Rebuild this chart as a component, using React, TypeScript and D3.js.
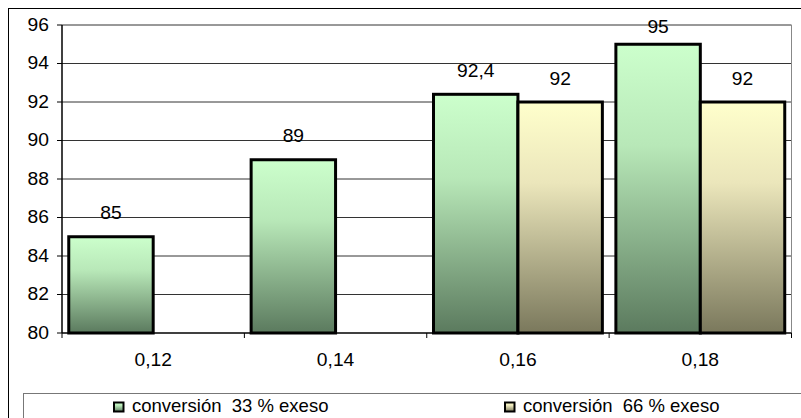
import React from "react";
import * as d3 from "d3";

const categories = ["0,12", "0,14", "0,16", "0,18"];
const seriesNames = ["conversión  33 % exeso", "conversión  66 % exeso"];
const series33: (number | null)[] = [85, 89, 92.4, 95];
const series66: (number | null)[] = [null, null, 92, 92];
const yTicks = [80, 82, 84, 86, 88, 90, 92, 94, 96];

const W = 801;
const H = 418;
const plot = { left: 62, right: 791.5, top: 25, bottom: 333 };
const font = "'Liberation Sans', Arial, sans-serif";

const fmt = (v: number) => String(v).replace(".", ",");

function T(props: { x: number; y: number; anchor?: string; size: number; sx?: number; children: any }) {
  const { x, y, anchor = "start", size, sx = 1, children } = props;
  return (
    <text
      transform={`translate(${x},${y}) scale(${sx},1)`}
      textAnchor={anchor as any}
      fontFamily={font}
      fontSize={size}
      fill="#000"
      style={{ whiteSpace: "pre" }}
    >
      {children}
    </text>
  );
}

export default function App() {
  const y = d3.scaleLinear().domain([80, 96]).range([plot.bottom, plot.top]);
  const x = d3.scaleBand<string>().domain(categories).range([plot.left, plot.right]).padding(0);
  const xs = d3
    .scaleBand<string>()
    .domain(["s0", "s1"])
    .range([0, x.bandwidth()])
    .paddingInner(0)
    .paddingOuter(0.08);
  const allSeries = [series33, series66];
  const grads = ["gGreen", "gYellow"];

  return (
    <svg width={W} height={H} style={{ position: "absolute", left: 0, top: 0, background: "#fff" }}>
      <defs>
        <linearGradient id="gGreen" x1="0" y1="0" x2="0" y2="1">
          <stop offset="0" stopColor="#ccffcc" />
          <stop offset="0.35" stopColor="#b8e8b8" />
          <stop offset="1" stopColor="#5b7a5e" />
        </linearGradient>
        <linearGradient id="gYellow" x1="0" y1="0" x2="0" y2="1">
          <stop offset="0" stopColor="#ffffcc" />
          <stop offset="0.35" stopColor="#ebe6bb" />
          <stop offset="1" stopColor="#7a785c" />
        </linearGradient>
      </defs>
      {/* outer border */}
      <rect x={8.5} y={8.5} width={820} height={440} fill="none" stroke="#000" strokeWidth={1} />
      {/* gridlines */}
      {yTicks.slice(1).map((t) => (
        <line key={t} x1={plot.left} x2={plot.right} y1={y(t)} y2={y(t)} stroke="#333" strokeWidth={1} />
      ))}
      {/* plot right border */}
      <line x1={plot.right} x2={plot.right} y1={plot.top} y2={plot.bottom} stroke="#888" strokeWidth={1} />
      {/* y ticks */}
      {yTicks.map((t) => (
        <g key={t}>
          <line x1={57} x2={plot.left} y1={y(t)} y2={y(t)} stroke="#000" />
          <T x={49} y={y(t) + 5.5} anchor="end" size={18} sx={1.07}>
            {t}
          </T>
        </g>
      ))}
      {/* bars */}
      {categories.map((c, i) =>
        allSeries.map((s, k) => {
          const v = s[i];
          if (v == null) return null;
          const bx = (x(c) as number) + (xs(k === 0 ? "s0" : "s1") as number);
          const by = y(v);
          return (
            <g key={c + k}>
              <rect
                x={bx}
                y={by}
                width={xs.bandwidth()}
                height={plot.bottom - by}
                fill={`url(#${grads[k]})`}
                stroke="#000"
                strokeWidth={3}
              />
              <T x={bx + xs.bandwidth() / 2} y={Math.max(by - 17.5, 33)} anchor="middle" size={17.5} sx={1.1}>
                {fmt(v)}
              </T>
            </g>
          );
        })
      )}
      {/* axes */}
      <line x1={plot.left} x2={plot.left} y1={plot.top} y2={plot.bottom} stroke="#000" strokeWidth={1.5} />
      <line x1={plot.left} x2={plot.right} y1={plot.bottom} y2={plot.bottom} stroke="#000" strokeWidth={1.5} />
      {categories.map((c) => (
        <line
          key={"t" + c}
          x1={x(c) as number}
          x2={x(c) as number}
          y1={plot.bottom}
          y2={plot.bottom + 5}
          stroke="#000"
        />
      ))}
      <line x1={plot.right} x2={plot.right} y1={plot.bottom} y2={plot.bottom + 5} stroke="#000" />
      {categories.map((c) => (
        <T key={"l" + c} x={(x(c) as number) + x.bandwidth() / 2} y={366} anchor="middle" size={17.5} sx={1.1}>
          {c}
        </T>
      ))}
      {/* legend */}
      <rect x={23.5} y={393.5} width={800} height={60} fill="#fff" stroke="#777" strokeWidth={1} />
      {seriesNames.map((n, k) => {
        const lx = k === 0 ? 113 : 504;
        return (
          <g key={n}>
            <rect x={lx + 1} y={402.5} width={9.5} height={9} fill={`url(#${grads[k]})`} stroke="#000" strokeWidth={2} />
            <T x={lx + 19} y={411.7} size={18.5}>
              {n}
            </T>
          </g>
        );
      })}
    </svg>
  );
}
